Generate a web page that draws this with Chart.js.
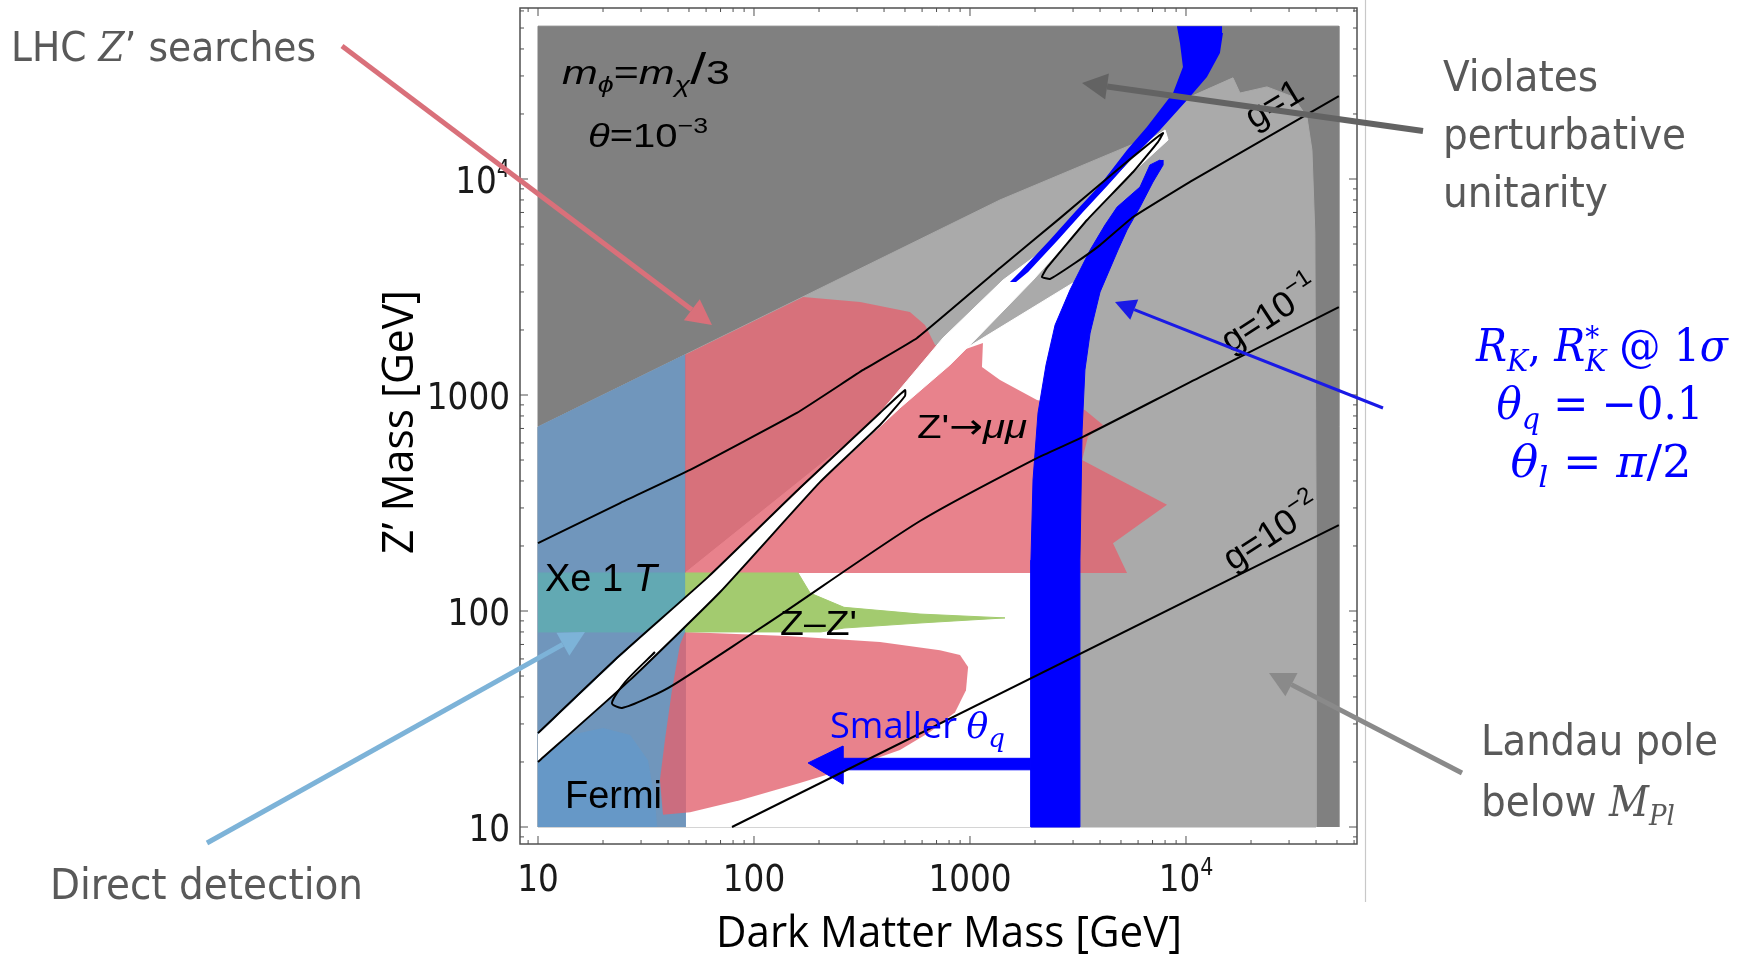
<!DOCTYPE html>
<html>
<head>
<meta charset="utf-8">
<title>Z' mass vs dark matter mass</title>
<script src="https://cdn.jsdelivr.net/npm/chart.js@4.4.1/dist/chart.umd.min.js"></script>
<style>
  html, body { margin: 0; padding: 0; background: #fff; }
  #wrap { position: relative; width: 1740px; height: 955px; }
</style>
</head>
<body>
<div id="wrap"><canvas id="chart"></canvas></div>
<script>
// ──────────────────────────────────────────────
//  Data (GeV, [m_DM, m_Z'])
// ──────────────────────────────────────────────

const xRange = [8.254, 61900];
const yRange = [8.343, 61900];
const tickValues = [10, 100, 1000, 10000];
const tickLabels = ['10', '100', '1000', '10^4'];

const darkRegion = [[10, 10], [10, 51000], [51000, 51000], [51000, 10]];
const lightRegion = [[10, 711], [1377, 8000], [6324, 15170], [9680, 23200], [16500, 29400], [17780, 25000],
  [23700, 26700], [31300, 24000], [36300, 19400], [38300, 13600], [39500, 5620], [40000, 327], [40000, 10], [10, 10]];
const allowedRegion = [[48, 10], [48, 150], [929, 1614], [3000, 3304], [2667, 2477], [2344, 1702],
  [2109, 949], [2000, 450], [1915, 10]];
const directDetection = [[10, 10], [10, 711], [48, 1535], [48, 10]];
const fermiRegion = [[10, 20.4], [14.1, 26.7], [20, 28.7], [26.7, 26.7], [32.3, 20.4], [34.8, 13.3], [35.6, 10], [10, 10]];
const xenonBand = [[10, 80], [48, 80], [48, 150], [10, 150]];
const zzMixing = [[48, 150], [160, 150], [182, 121], [261, 104], [587, 96.8], [1452, 92.9], [587, 88],
  [261, 83.4], [204, 80], [48, 80]];
const lhcUpper = [[48, 1535], [169, 2844], [310, 2698], [527, 2421], [619, 2109], [689, 1702], [929, 1614],
  [1148, 1742], [1136, 1349], [1377, 1172], [2042, 949], [3404, 853], [4130, 726], [3516, 640], [3304, 500],
  [4943, 404], [8166, 310], [4592, 206], [5333, 150], [48, 150]];
const lhcLower = [[48, 80], [142, 76.6], [383, 71.8], [726, 65.9], [899, 62.5], [980, 55.1], [958, 43],
  [853, 34], [653, 27.5], [474, 22.7], [278, 18.8], [163, 16], [86.1, 13.3], [50.6, 11.7], [37.9, 11.4],
  [36.7, 16.5], [38.7, 25.3], [41.7, 43], [45.4, 69.7]];
const resonanceChannel = [[10, 26.7], [24, 61.2], [61.2, 143.5], [163, 363], [383, 826], [750, 1837],
  [1422, 3404], [2529, 5224], [4355, 9376], [6808, 15170], [8000, 16870], [8260, 15170], [5689, 10770],
  [3483, 6457], [1958, 3404], [1076, 1837], [807, 1377], [474, 871], [202, 395], [69.7, 122.5], [26.7, 48], [10, 20]];
const rkUpper = [[9078, 51000], [9376, 42660], [9680, 33040], [8710, 25000], [6590, 17420], [5333, 13610],
  [4000, 9376], [3063, 7031], [2344, 5224], [1702, 3707], [1531, 3334], [1633, 3334], [1858, 3707],
  [2553, 5224], [3334, 7031], [4355, 9376], [5689, 12650], [7586, 16870], [10120, 23200], [12500, 29650],
  [14360, 38280], [14830, 47420], [14690, 51000]];
const rkBand = [[7586, 12250], [6808, 11610], [6124, 9183], [4797, 7413], [4217, 6124], [3597, 4688],
  [2904, 3063], [2477, 2109], [2249, 1377], [2065, 826], [1958, 404], [1915, 172], [1915, 10], [3228, 10],
  [3228, 172], [3304, 689], [3404, 1306], [3597, 1936], [4000, 3000], [4842, 4688], [5333, 5808],
  [6124, 7413], [7031, 9680], [7834, 11610], [7834, 12250]];
const smallerArrow = [[1915, 18.4], [258, 18.4], [258, 15.8], [178, 19.8], [258, 23.7], [258, 20.8], [1915, 20.8]];

// g = 1 contour: up along the resonance, back down, then on to the right
const gLine1 = [[10, 206], [24, 316], [50.6, 450], [158, 826], [320, 1306], [569, 1837], [1377, 3873],
  [2612, 6590], [4797, 11020], [6808, 14690], [7834, 16330], [7413, 14830], [5689, 10770], [3483, 6457],
  [2270, 3873], [2153, 3516], [2344, 3443], [3063, 4083], [4000, 4943], [5689, 6668], [10770, 9886], [51000, 24210]];
const gLine01 = [[34.8, 64.6], [25.3, 46.9], [22, 37.5], [24.5, 35.6], [33, 40], [42.2, 45.4], [98.9, 79.1],
  [132, 95.7], [587, 261], [1958, 500], [3334, 640], [11610, 1211], [51000, 2553]];
const gLine001 = [[79.1, 10], [51000, 250]];
const channelContour = [[10, 27.2], [24, 62.5], [61.2, 143.5], [163, 371], [383, 826], [500, 1054],
  [500, 989], [383, 726], [202, 395], [69.7, 122.5], [26.7, 48], [10, 20]];

// ──────────────────────────────────────────────
//  Helpers
// ──────────────────────────────────────────────

const SANS = '"DejaVu Sans", Verdana, sans-serif';
const HELV = '"Liberation Sans", Arial, sans-serif';
const CALI = '"Open Sans", "Noto Sans", sans-serif';
const SERIF = '"DejaVu Serif", serif';

const toXY = pts => pts.map(([x, y]) => ({ x, y }));

function area(pts, color, edge) {
  return {
    data: toXY(pts), showLine: true, fill: 'shape', backgroundColor: color,
    borderColor: color, borderWidth: edge || 0, pointRadius: 0, tension: 0,
  };
}

function curve(pts, tension, width) {
  return {
    data: toXY(pts), showLine: true, fill: false, borderColor: '#000',
    borderWidth: width || 2, pointRadius: 0, tension: tension,
  };
}

// text made of pieces (fonts, sub/superscripts), optionally fitted to a width
function drawRich(ctx, parts, x, y, o = {}) {
  ctx.save();
  ctx.textBaseline = 'alphabetic';
  ctx.textAlign = 'left';
  let w = 0;
  for (const p of parts) {
    ctx.font = p.f;
    if (!p.stack) w += ctx.measureText(p.t).width;
  }
  const sx = o.width ? o.width / w : (o.sx || 1);
  ctx.translate(x, y);
  if (o.angle) ctx.rotate(o.angle);
  ctx.scale(sx, 1);
  let cx = o.align === 'center' ? -w / 2 : (o.align === 'right' ? -w : 0);
  for (const p of parts) {
    ctx.font = p.f;
    ctx.fillStyle = p.c || o.color || '#000';
    ctx.fillText(p.t, cx, p.dy || 0);
    if (!p.stack) cx += ctx.measureText(p.t).width;
  }
  ctx.restore();
}

function arrow(ctx, x1, y1, x2, y2, color, lw, head) {
  const a = Math.atan2(y2 - y1, x2 - x1);
  const hl = head * 1.15, hw = head * 0.6;
  const bx = x2 - hl * Math.cos(a), by = y2 - hl * Math.sin(a);
  ctx.save();
  ctx.strokeStyle = color;
  ctx.fillStyle = color;
  ctx.lineWidth = lw;
  ctx.beginPath();
  ctx.moveTo(x1, y1);
  ctx.lineTo(bx, by);
  ctx.stroke();
  ctx.beginPath();
  ctx.moveTo(x2, y2);
  ctx.lineTo(bx - hw * Math.sin(a), by + hw * Math.cos(a));
  ctx.lineTo(bx + hw * Math.sin(a), by - hw * Math.cos(a));
  ctx.closePath();
  ctx.fill();
  ctx.restore();
}

// ──────────────────────────────────────────────
//  Frame, ticks, labels and slide annotations
// ──────────────────────────────────────────────

const annotate = {
  id: 'annotate',
  afterDraw(chart) {
    const ctx = chart.ctx;
    const xs = chart.scales.x, ys = chart.scales.y;
    const a = chart.chartArea;

    ctx.save();
    ctx.strokeStyle = '#c8c8c8';
    ctx.lineWidth = 1.2;
    ctx.beginPath(); ctx.moveTo(1365.5, 0); ctx.lineTo(1365.5, 902); ctx.stroke();

    ctx.strokeStyle = '#505050';
    ctx.lineWidth = 1.5;
    ctx.strokeRect(a.left, a.top, a.right - a.left, a.bottom - a.top);

    ctx.lineWidth = 1;
    ctx.beginPath();
    for (let d = 0; d <= 4; d++) {
      for (let m = 1; m <= 9; m++) {
        const v = m * Math.pow(10, d);
        const len = m === 1 ? 8 : 4;
        if (v >= xs.min && v <= xs.max) {
          const px = xs.getPixelForValue(v);
          ctx.moveTo(px, a.bottom); ctx.lineTo(px, a.bottom - len);
          ctx.moveTo(px, a.top); ctx.lineTo(px, a.top + len);
        }
        if (v >= ys.min && v <= ys.max) {
          const py = ys.getPixelForValue(v);
          ctx.moveTo(a.left, py); ctx.lineTo(a.left + len, py);
          ctx.moveTo(a.right, py); ctx.lineTo(a.right - len, py);
        }
      }
    }
    ctx.stroke();
    ctx.restore();

    // tick labels
    tickValues.forEach((v, i) => {
      const [base, exp] = tickLabels[i].split('^');
      const parts = [{ t: base, f: `38px ${SANS}` }];
      if (exp) parts.push({ t: exp, f: `24px ${SANS}`, dy: -16 });
      drawRich(ctx, parts, xs.getPixelForValue(v), 891, { align: 'center', sx: 0.86, color: '#1a1a1a' });
      drawRich(ctx, parts, 510, ys.getPixelForValue(v) + 14, { align: 'right', sx: 0.86, color: '#1a1a1a' });
    });

    // axis titles
    drawRich(ctx, [{ t: 'Dark Matter Mass [GeV]', f: `44px ${CALI}` }], 949, 947, { align: 'center', width: 466 });
    drawRich(ctx, [{ t: 'Z’ Mass [GeV]', f: `44px ${CALI}` }], 413, 422, { align: 'center', width: 264, angle: -Math.PI / 2 });

    // labels inside the plot
    drawRich(ctx, [
      { t: 'm', f: `italic 33px ${HELV}` }, { t: 'ϕ', f: `italic 22px ${HELV}`, dy: 8 },
      { t: '=', f: `33px ${HELV}` }, { t: 'm', f: `italic 33px ${HELV}` }, { t: 'χ', f: `italic 22px ${HELV}`, dy: 8 },
      { t: '/', f: `44px ${HELV}` }, { t: '3', f: `33px ${HELV}` },
    ], 562, 84, { width: 168 });
    drawRich(ctx, [
      { t: 'θ', f: `italic 33px ${HELV}` }, { t: '=10', f: `33px ${HELV}` }, { t: '−3', f: `22px ${HELV}`, dy: -14 },
    ], 588, 147, { width: 120 });
    drawRich(ctx, [{ t: 'Z\'', f: `34px ${HELV}` }, { t: '→', f: `34px ${SANS}` }, { t: 'μμ', f: `italic 34px ${HELV}` }],
      917, 438, { width: 110 });
    drawRich(ctx, [{ t: 'Xe 1 ', f: `38px ${HELV}` }, { t: 'T', f: `italic 38px ${HELV}` }], 545, 591, { width: 112 });
    drawRich(ctx, [{ t: 'Z–Z\'', f: `35px ${HELV}` }], 780, 635, { width: 77 });
    drawRich(ctx, [{ t: 'Fermi', f: `38px ${HELV}` }], 565, 808, { width: 97 });

    drawRich(ctx, [{ t: 'g=1', f: `36px ${HELV}` }], 1280, 114, { align: 'center', angle: -31 * Math.PI / 180 });
    drawRich(ctx, [{ t: 'g=10', f: `36px ${HELV}` }, { t: '−1', f: `24px ${HELV}`, dy: -16 }], 1276, 324,
      { align: 'center', angle: -33 * Math.PI / 180 });
    drawRich(ctx, [{ t: 'g=10', f: `36px ${HELV}` }, { t: '−2', f: `24px ${HELV}`, dy: -16 }], 1278, 542,
      { align: 'center', angle: -33 * Math.PI / 180 });

    drawRich(ctx, [
      { t: 'Smaller ', f: `36px ${CALI}` }, { t: 'θ', f: `italic 36px ${SERIF}` }, { t: 'q', f: `italic 26px ${SERIF}`, dy: 9 },
    ], 830, 738, { width: 175, color: '#0000ff' });

    // slide annotations
    const grey = '#595959';
    drawRich(ctx, [{ t: 'LHC ', f: `41px ${SANS}` }, { t: 'Z', f: `italic 41px ${SERIF}` }, { t: '’ searches', f: `41px ${SANS}` }],
      11, 61, { width: 305, color: grey });
    ['Violates', 'perturbative', 'unitarity'].forEach((t, i) => {
      drawRich(ctx, [{ t, f: `42px ${SANS}` }], 1443, 91 + i * 58, { sx: 0.93, color: grey });
    });
    drawRich(ctx, [{ t: 'Landau pole', f: `42px ${SANS}` }], 1481, 755, { width: 237, color: grey });
    drawRich(ctx, [
      { t: 'below ', f: `42px ${SANS}` }, { t: 'M', f: `italic 42px ${SERIF}` }, { t: 'Pl', f: `italic 28px ${SERIF}`, dy: 9 },
    ], 1481, 816, { sx: 0.93, color: grey });
    drawRich(ctx, [{ t: 'Direct detection', f: `42px ${SANS}` }], 50, 899, { width: 313, color: grey });

    const it = `italic 44px ${SERIF}`, up = `44px ${SERIF}`, sub = `italic 30px ${SERIF}`;
    drawRich(ctx, [
      { t: 'R', f: it }, { t: 'K', f: sub, dy: 10 }, { t: ', ', f: up }, { t: 'R', f: it },
      { t: '*', f: `30px ${SERIF}`, dy: -14, stack: true }, { t: 'K', f: sub, dy: 10 },
      { t: ' @ 1', f: up }, { t: 'σ', f: it },
    ], 1602, 361, { align: 'center', width: 252, color: '#0000ff' });
    drawRich(ctx, [{ t: 'θ', f: it }, { t: 'q', f: sub, dy: 10 }, { t: ' = −0.1', f: up }],
      1600, 419, { align: 'center', width: 207, color: '#0000ff' });
    drawRich(ctx, [{ t: 'θ', f: it }, { t: 'l', f: sub, dy: 10 }, { t: ' = ', f: up }, { t: 'π', f: it }, { t: '/2', f: up }],
      1601, 477, { align: 'center', width: 181, color: '#0000ff' });

    arrow(ctx, 342, 46, 712, 325, '#d9707a', 5, 22);
    arrow(ctx, 1423, 131, 1082, 83, '#636363', 6, 22);
    arrow(ctx, 1383, 408, 1115, 302, '#1a1ae6', 3, 18);
    arrow(ctx, 207, 843, 585, 632, '#7db3d8', 5, 22);
    arrow(ctx, 1462, 773, 1269, 673, '#8a8a8a', 5, 22);
  },
};

// ──────────────────────────────────────────────
//  Chart (layers listed bottom → top)
// ──────────────────────────────────────────────

const red = 'rgba(226, 99, 111, 0.8)';
const layers = [
  area(darkRegion, '#808080', 1),
  area(lightRegion, '#aaaaaa', 1),
  area(allowedRegion, '#ffffff', 1),
  area(directDetection, '#7096bc', 1),
  area(fermiRegion, 'rgba(80, 160, 225, 0.3)'),
  area(lhcUpper, red),
  area(lhcLower, red),
  area(xenonBand, '#62a9b3', 1),
  area(zzMixing, '#a3cb6f', 1),
  area(resonanceChannel, '#ffffff', 1),
  area(rkUpper, '#0000ff'),
  area(rkBand, '#0000ff', 1),
  area(smallerArrow, '#0000ff', 1),
  curve(channelContour, 0.15),
  curve(gLine1, 0.1),
  curve(gLine01, 0.25),
  curve(gLine001, 0),
];
layers.forEach((ds, i) => { ds.order = -i; });

new Chart(document.getElementById('chart'), {
  type: 'scatter',
  data: { datasets: layers },
  options: {
    responsive: true,
    maintainAspectRatio: false,
    animation: false,
    events: [],
    layout: { padding: { left: 520, top: 8, right: 383, bottom: 111 } },
    plugins: { legend: { display: false }, tooltip: { enabled: false } },
    scales: {
      x: { type: 'logarithmic', min: xRange[0], max: xRange[1], display: false },
      y: { type: 'logarithmic', min: yRange[0], max: yRange[1], display: false },
    },
  },
  plugins: [annotate],
});
</script>
</body>
</html>
